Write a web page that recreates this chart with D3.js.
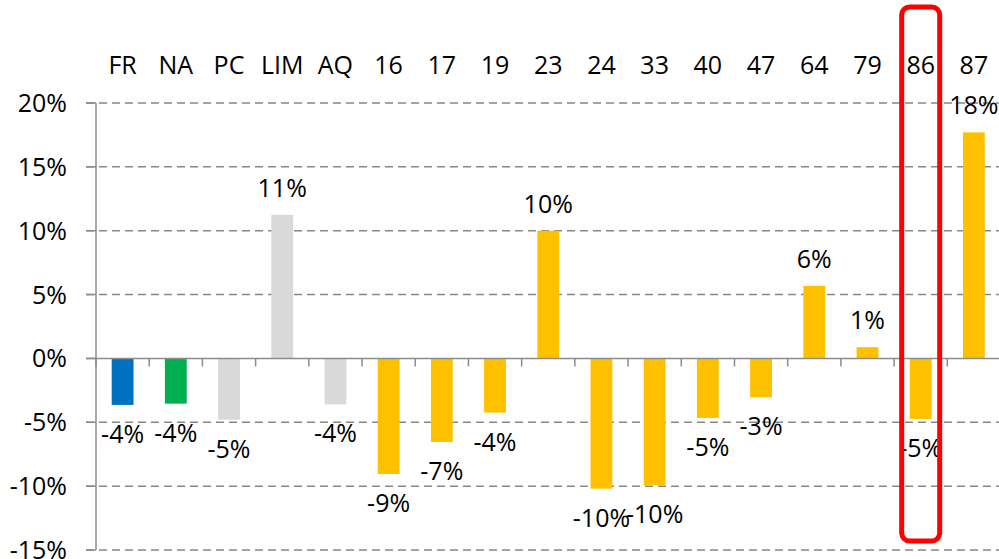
<!DOCTYPE html>

<html lang="fr">

	<head>
		<meta charset="utf-8">
		<title>Evolution par territoire</title>
		<script type="text/javascript" src="https://cdn.jsdelivr.net/npm/d3@7/dist/d3.min.js"></script>
        <style>
            body { margin: 0; background: #ffffff; }
        </style>
	</head>

    <body>

		<script type="text/javascript">

        // -- Data -- //

        let categories = ["FR", "NA", "PC", "LIM", "AQ", "16", "17", "19", "23", "24", "33", "40", "47", "64", "79", "86", "87"];
        let values = [-3.64, -3.54, -4.8, 11.24, -3.6, -9.05, -6.54, -4.24, 10.0, -10.2, -9.93, -4.66, -3.04, 5.68, 0.88, -4.74, 17.7];
        let barColors = ["#0070C0", "#00B050", "#D9D9D9", "#D9D9D9", "#D9D9D9", "#FFC000", "#FFC000", "#FFC000", "#FFC000", "#FFC000", "#FFC000", "#FFC000", "#FFC000", "#FFC000", "#FFC000", "#FFC000", "#FFC000"];
        let yTicks = [-15, -10, -5, 0, 5, 10, 15, 20];
        let highlighted = "86";

        let ds = categories.map(function(c, i) {
            return { Category: c, Value: values[i], Color: barColors[i] };
        });

        // -- Setting -- //

        let canvasWidth = 999;
        let canvasHeight = 559;
        let fontFamily = "'Open Sans', 'Noto Sans', sans-serif";
        let fontSize = 25;

        const canvas = d3.select("body")
            .append("svg")
            .attr("width", canvasWidth)
            .attr("height", canvasHeight)

        let x = d3.scaleBand()
            .domain(categories)
            .range([96, 1000.5])
            .paddingInner(0.59)
            .paddingOuter(0.295);

        let y = d3.scaleLinear()
            .domain([-15, 20])
            .range([550, 103]);

        let step = x.step();

        // -- Visualisation -- //

        // gridlines (dashed), zero line drawn solid later
        canvas.append("g")
            .selectAll("line")
            .data(yTicks.filter(function(t) { return t !== 0; }))
            .join("line")
                .attr("x1", 86)
                .attr("x2", canvasWidth)
                .attr("y1", function(d) { return y(d); })
                .attr("y2", function(d) { return y(d); })
                .attr("stroke", "#878787")
                .attr("stroke-width", 1.5)
                .attr("stroke-dasharray", "8,5");

        // vertical axis
        canvas.append("line")
            .attr("x1", 96).attr("x2", 96)
            .attr("y1", y(20)).attr("y2", y(-15))
            .attr("stroke", "#8c8c8c")
            .attr("stroke-width", 1.5);

        canvas.append("g")
            .selectAll("line")
            .data(yTicks)
            .join("line")
                .attr("x1", 86)
                .attr("x2", 96)
                .attr("y1", function(d) { return y(d); })
                .attr("y2", function(d) { return y(d); })
                .attr("stroke", "#8c8c8c")
                .attr("stroke-width", 1.5);

        canvas.append("g")
            .selectAll("text")
            .data(yTicks)
            .join("text")
                .attr("x", 67)
                .attr("y", function(d) { return y(d); })
                .attr("dy", "0.36em")
                .attr("text-anchor", "end")
                .attr("font-family", fontFamily)
                .attr("font-size", fontSize)
                .attr("fill", "#000")
                .text(function(d) { return d + "%"; });

        // bars
        canvas.append("g")
            .selectAll("rect")
            .data(ds)
            .join("rect")
                .attr("x", function(d) { return x(d.Category); })
                .attr("width", x.bandwidth())
                .attr("y", function(d) { return y(Math.max(0, d.Value)); })
                .attr("height", function(d) { return Math.abs(y(d.Value) - y(0)); })
                .attr("fill", function(d) { return d.Color; });

        // zero line + category ticks
        canvas.append("line")
            .attr("x1", 86).attr("x2", canvasWidth)
            .attr("y1", y(0)).attr("y2", y(0))
            .attr("stroke", "#8c8c8c")
            .attr("stroke-width", 1.5);

        canvas.append("g")
            .selectAll("line")
            .data(d3.range(categories.length + 1))
            .join("line")
                .attr("x1", function(i) { return 96 + i * step; })
                .attr("x2", function(i) { return 96 + i * step; })
                .attr("y1", y(0))
                .attr("y2", y(0) + 8)
                .attr("stroke", "#8c8c8c")
                .attr("stroke-width", 1.5);

        // category labels on top
        canvas.append("g")
            .selectAll("text")
            .data(categories)
            .join("text")
                .attr("x", function(d) { return x(d) + x.bandwidth() / 2; })
                .attr("y", 74)
                .attr("text-anchor", "middle")
                .attr("font-family", fontFamily)
                .attr("font-size", fontSize)
                .attr("fill", "#000")
                .text(function(d) { return d; });

        // value labels
        canvas.append("g")
            .selectAll("text")
            .data(ds)
            .join("text")
                .attr("x", function(d) { return x(d.Category) + x.bandwidth() / 2; })
                .attr("y", function(d) {
                    return d.Value >= 0 ? y(d.Value) - 18 : y(d.Value) + 38;
                })
                .attr("text-anchor", "middle")
                .attr("font-family", fontFamily)
                .attr("font-size", fontSize)
                .attr("fill", "#000")
                .text(function(d) { return Math.round(d.Value) + "%"; });

        // highlight box
        let hx = x(highlighted) + x.bandwidth() / 2;
        canvas.append("rect")
            .attr("x", hx - 19)
            .attr("y", 7)
            .attr("width", 38)
            .attr("height", 534)
            .attr("rx", 8)
            .attr("fill", "none")
            .attr("stroke", "#FF0000")
            .attr("stroke-width", 5);

		</script>

	</body>

</html>
